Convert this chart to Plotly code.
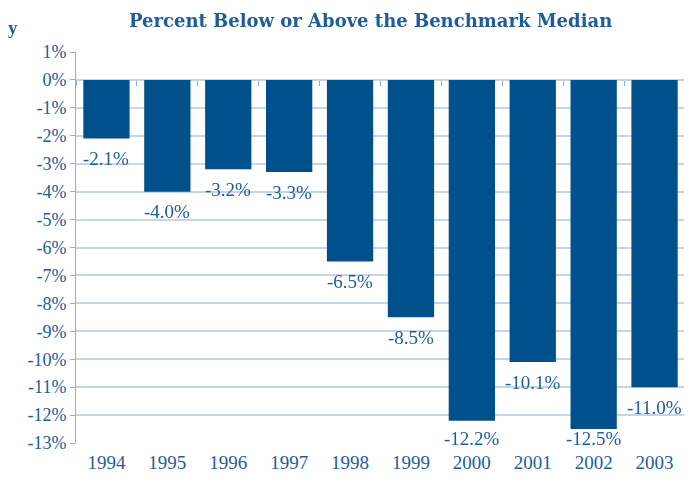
import plotly.graph_objects as go

years = ["1994", "1995", "1996", "1997", "1998", "1999", "2000", "2001", "2002", "2003"]
values = [-2.1, -4.0, -3.2, -3.3, -6.5, -8.5, -12.2, -10.1, -12.5, -11.0]
labels = ["-2.1%", "-4.0%", "-3.2%", "-3.3%", "-6.5%", "-8.5%", "-12.2%", "-10.1%", "-12.5%", "-11.0%"]
ytick_vals = list(range(1, -14, -1))
ytick_text = [f"{v}%" for v in ytick_vals]

bar_color = "#00508C"
text_color = "#1F5C9A"
grid_color = "#C6D6EA"
axis_color = "#8FAED0"
font_family = "Liberation Serif, DejaVu Serif, serif"

y_min, y_max = -13, 1
label_gap = 0.72          # label centre below bar end, in axis units
label_floor = -12.85      # labels never drop below this

fig = go.Figure()
fig.add_trace(go.Bar(
    x=years, y=values,
    marker=dict(color=bar_color, line=dict(width=0)),
    width=0.76, hoverinfo="x+y",
))
# invisible trace so the overlay axis (tick marks on the 0% line) has categories
fig.add_trace(go.Scatter(x=years, y=values, mode="markers", opacity=0,
                         xaxis="x2", hoverinfo="skip"))

annotations = [
    dict(x=i, y=max(v - label_gap, label_floor), text=lab, xref="x", yref="y",
         yanchor="middle", showarrow=False,
         font=dict(family=font_family, size=19, color=text_color))
    for i, (v, lab) in enumerate(zip(values, labels))
]
annotations += [
    dict(text="<b>Percent Below or Above the Benchmark Median</b>", xref="paper", yref="paper",
         x=0.484, xanchor="center", y=1.0, yanchor="middle", yshift=32, showarrow=False,
         font=dict(family="DejaVu Serif, serif", size=18, color=text_color)),
    dict(text="<b>y</b>", xref="paper", yref="paper", x=0, xshift=-70, y=1.0,
         yanchor="middle", yshift=25, xanchor="left", showarrow=False,
         font=dict(family=font_family, size=19, color=text_color)),
]

fig.update_layout(
    width=692, height=497,
    margin=dict(l=68, r=15, t=44, b=62, autoexpand=False),
    plot_bgcolor="white", paper_bgcolor="white",
    showlegend=False,
    font=dict(family=font_family, color=text_color),
    annotations=annotations,
    xaxis=dict(
        type="category", automargin=False, showgrid=False, showline=False, ticks="",
        ticklabelstandoff=6, categoryorder="array", categoryarray=years,
        range=[-0.5, len(years) - 0.5],
        tickfont=dict(family=font_family, size=19, color=text_color),
    ),
    xaxis2=dict(
        overlaying="x", anchor="free", position=(0 - y_min) / (y_max - y_min),
        side="bottom", type="category", categoryorder="array", categoryarray=years,
        range=[-0.5, len(years) - 0.5], tickson="boundaries",
        ticks="outside", ticklen=5, tickcolor=axis_color, showticklabels=False,
        showgrid=False, showline=False, zeroline=False, automargin=False,
    ),
    yaxis=dict(
        automargin=False,
        range=[y_min, y_max], tickvals=ytick_vals, ticktext=ytick_text,
        showgrid=True, gridcolor=grid_color, gridwidth=1.5,
        zeroline=True, zerolinecolor=grid_color, zerolinewidth=1.5,
        showline=True, linecolor=axis_color, linewidth=1,
        ticks="outside", ticklen=5, tickcolor=axis_color,
        tickfont=dict(family=font_family, size=18, color=text_color),
    ),
)

fig.write_html("out.html")
